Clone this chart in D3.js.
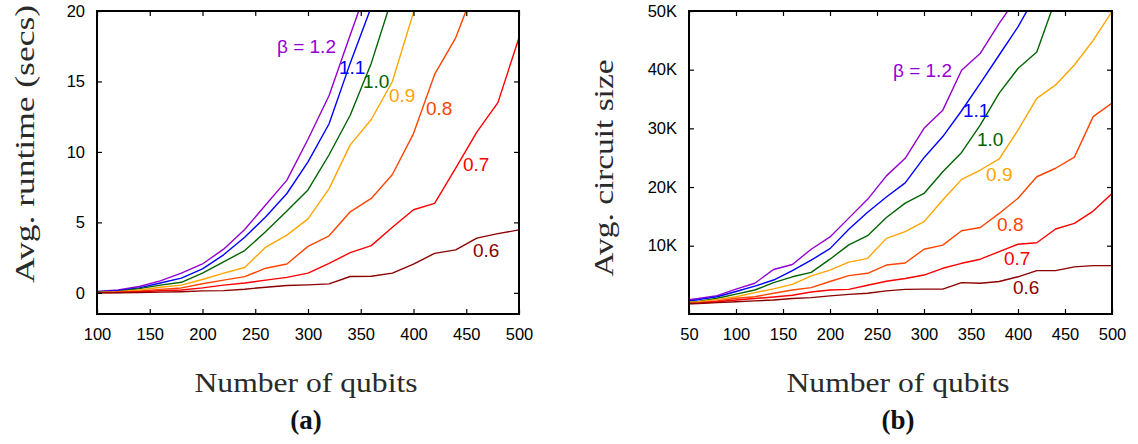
<!DOCTYPE html>
<html>
<head>
<meta charset="utf-8">
<script src="https://cdn.jsdelivr.net/npm/d3@7"></script>
<style>
  html, body { margin: 0; padding: 0; background: #fff; }
  svg { display: block; }
  .tick text { font-family: "Liberation Sans", Arial, sans-serif; font-size: 16.5px; fill: #000; }
  .tick line { stroke: #000; stroke-width: 1.2; }
  .title { font-family: "Liberation Serif", "Times New Roman", serif; font-size: 28px; fill: #2a2a2a; }
  .panel { font-family: "Liberation Serif", "Times New Roman", serif; font-size: 27px; font-weight: bold; fill: #111; }
  .lbl { font-family: "Liberation Sans", Arial, sans-serif; font-size: 19px; }
</style>
</head>
<body>
<svg id="chart" width="1138" height="444"></svg>
<script>
// Series parameters and colours
const betas = ["1.2", "1.1", "1.0", "0.9", "0.8", "0.7", "0.6"];
const colors = ["#9400D3", "#0000FF", "#006400", "#FFA500", "#FF4500", "#FF0000", "#8B0000"];

// (a) average runtime in seconds; x = 100, 120, ... (each series ends once it leaves the plot)
const qubitsA = d3.range(100, 501, 20);
const runtime12 = [0.1, 0.2, 0.45, 0.85, 1.4, 2.05, 3.1, 4.5, 6.25, 8.0, 10.9, 14.0, 18.3, 22.5];
const runtime11 = [0.08, 0.15, 0.35, 0.7, 1.05, 1.7, 2.7, 3.95, 5.4, 7.05, 9.3, 12.0, 16.3, 20.3];
const runtime10 = [0.05, 0.1, 0.3, 0.55, 0.75, 1.4, 2.2, 3.0, 4.35, 5.8, 7.3, 9.8, 12.6, 16.3, 21.0];
const runtime09 = [0.03, 0.08, 0.2, 0.4, 0.55, 0.95, 1.4, 1.8, 3.25, 4.1, 5.25, 7.4, 10.5, 12.3, 15.0, 19.9, 24.0];
const runtime08 = [0.02, 0.05, 0.12, 0.25, 0.35, 0.65, 0.9, 1.15, 1.75, 2.05, 3.3, 4.05, 5.75, 6.7, 8.4, 11.3, 15.5, 18.1, 22.0];
const runtime07 = [0.0, 0.03, 0.08, 0.15, 0.2, 0.35, 0.55, 0.7, 0.9, 1.1, 1.4, 2.1, 2.85, 3.35, 4.65, 5.9, 6.35, 8.85, 11.4, 13.5, 18.1];
const runtime06 = [0.0, 0.01, 0.03, 0.05, 0.08, 0.14, 0.16, 0.26, 0.4, 0.52, 0.57, 0.64, 1.16, 1.18, 1.4, 2.04, 2.8, 3.05, 3.88, 4.2, 4.47];

// (b) average circuit size in thousands of gates; x = 40, 60, ...
const qubitsB = d3.range(40, 501, 20);
const size12 = [0.6, 1.0, 1.5, 2.6, 3.6, 5.95, 6.8, 9.4, 11.5, 14.7, 17.9, 21.9, 24.9, 30.0, 33.1, 39.9, 42.8, 47.9, 52.5];
const size11 = [0.4, 0.8, 1.3, 2.2, 3.1, 4.15, 5.75, 7.55, 9.5, 12.8, 15.7, 18.3, 20.7, 25.0, 28.6, 33.0, 37.7, 42.5, 47.3, 53.0];
const size10 = [0.3, 0.5, 1.05, 1.75, 2.45, 3.7, 4.7, 5.45, 7.7, 10.15, 11.7, 14.8, 17.25, 18.9, 22.6, 25.9, 30.6, 36.0, 40.2, 43.0, 52.0];
const size09 = [0.25, 0.45, 0.85, 1.3, 2.0, 2.65, 3.4, 4.85, 5.85, 7.2, 7.85, 11.25, 12.4, 14.1, 17.8, 21.3, 22.9, 24.8, 29.7, 35.1, 37.4, 40.8, 45.0, 49.9];
const size08 = [0.15, 0.3, 0.6, 1.05, 1.3, 1.9, 2.45, 2.85, 3.9, 4.9, 5.3, 6.7, 7.05, 9.4, 10.1, 12.55, 13.1, 15.5, 18.1, 21.75, 23.2, 25.1, 32.0, 34.3];
const size07 = [0.1, 0.2, 0.45, 0.75, 1.0, 1.25, 1.55, 2.1, 2.45, 2.55, 3.25, 3.95, 4.4, 5.0, 6.15, 7.0, 7.7, 9.0, 10.25, 10.5, 12.85, 13.8, 15.9, 18.9];
const size06 = [0.05, 0.15, 0.3, 0.45, 0.6, 0.75, 1.0, 1.15, 1.45, 1.7, 1.9, 2.3, 2.55, 2.6, 2.6, 3.7, 3.6, 3.9, 4.7, 5.75, 5.75, 6.4, 6.6, 6.6];

// Axis ticks
const xTicksA = [100, 150, 200, 250, 300, 350, 400, 450, 500];
const yTicksA = [0, 5, 10, 15, 20];
const xTicksB = [50, 100, 150, 200, 250, 300, 350, 400, 450, 500];
const yTicksB = [10, 20, 30, 40, 50];

// Curve labels: [text, x value, y value] in data units (left edge, vertical centre)
const labelsA = [["\u03B2 = 1.2", 270.6, 17.5], ["1.1", 329.4, 16.0], ["1.0", 352.1, 15.0], ["0.9", 376.8, 14.05], ["0.8", 411.8, 13.1], ["0.7", 446.9, 9.1], ["0.6", 456.4, 3.05]];
const labelsB = [["\u03B2 = 1.2", 267, 39.95], ["1.1", 341.5, 33.0], ["1.0", 356.4, 28.2], ["0.9", 366, 22.2], ["0.8", 377.7, 13.65], ["0.7", 385, 7.9], ["0.6", 394.7, 2.95]];

const svg = d3.select("#chart");

function panel(cfg) {
  const x = d3.scaleLinear().domain(cfg.xDomain).range([cfg.left, cfg.right]);
  const y = d3.scaleLinear().domain(cfg.yDomain).range([cfg.bottom, cfg.top]);
  const g = svg.append("g");

  const clipId = "clip-" + cfg.id;
  g.append("clipPath").attr("id", clipId).append("rect")
    .attr("x", cfg.left).attr("y", cfg.top)
    .attr("width", cfg.right - cfg.left).attr("height", cfg.bottom - cfg.top);

  // data lines
  const line = d3.line().x(d => x(d[0])).y(d => y(d[1]));
  const lines = g.append("g").attr("clip-path", `url(#${clipId})`);
  cfg.series.forEach((vals, i) => {
    const pts = vals.map((v, j) => [cfg.xs[j], v]);
    lines.append("path").datum(pts)
      .attr("d", line).attr("fill", "none")
      .attr("stroke", colors[i]).attr("stroke-width", 1.4)
      .attr("stroke-linejoin", "round");
  });

  // axes with inward ticks on all four sides
  const ax = [
    g.append("g").attr("transform", `translate(0,${cfg.bottom})`)
      .call(d3.axisBottom(x).tickValues(cfg.xTicks).tickSize(-5).tickPadding(14)),
    g.append("g").attr("transform", `translate(0,${cfg.top})`)
      .call(d3.axisTop(x).tickValues(cfg.xTicks).tickSize(-5).tickFormat("")),
    g.append("g").attr("transform", `translate(${cfg.left},0)`)
      .call(d3.axisLeft(y).tickValues(cfg.yTicks).tickSize(-5).tickPadding(12).tickFormat(cfg.yFormat)),
    g.append("g").attr("transform", `translate(${cfg.right},0)`)
      .call(d3.axisRight(y).tickValues(cfg.yTicks).tickSize(-5).tickFormat(""))
  ];
  ax.forEach(a => a.select(".domain").remove());

  // frame
  g.append("rect")
    .attr("x", cfg.left).attr("y", cfg.top)
    .attr("width", cfg.right - cfg.left).attr("height", cfg.bottom - cfg.top)
    .attr("fill", "none").attr("stroke", "#000").attr("stroke-width", 2);

  // curve labels
  cfg.labels.forEach((l, i) => {
    g.append("text").attr("class", "lbl")
      .attr("x", x(l[1])).attr("y", y(l[2]))
      .attr("dy", "0.35em")
      .attr("fill", colors[i]).text(l[0]);
  });

  // axis titles
  g.append("text").attr("class", "title")
    .attr("transform", `translate(${cfg.yTitleX},${cfg.yTitleY}) rotate(-90)`)
    .attr("text-anchor", "middle").attr("dy", "0.35em")
    .attr("textLength", cfg.yTitleLen).attr("lengthAdjust", "spacingAndGlyphs")
    .text(cfg.yTitle);
  g.append("text").attr("class", "title")
    .attr("x", cfg.xTitleX).attr("y", 392)
    .attr("text-anchor", "middle")
    .attr("textLength", 223).attr("lengthAdjust", "spacingAndGlyphs")
    .text("Number of qubits");
  g.append("text").attr("class", "panel")
    .attr("x", cfg.xTitleX).attr("y", 429)
    .attr("text-anchor", "middle")
    .text(cfg.tag);
}

panel({
  id: "a", left: 97, right: 519, top: 11, bottom: 314,
  xDomain: [100, 500], yDomain: [-1.5, 20],
  xs: qubitsA,
  series: [runtime12, runtime11, runtime10, runtime09, runtime08, runtime07, runtime06],
  xTicks: xTicksA, yTicks: yTicksA, yFormat: d3.format("d"),
  labels: labelsA,
  yTitle: "Avg. runtime (secs)", yTitleX: 24, yTitleY: 144, yTitleLen: 278,
  xTitleX: 306, tag: "(a)"
});

panel({
  id: "b", left: 689, right: 1112, top: 11, bottom: 314,
  xDomain: [50, 500], yDomain: [-1.64, 50],
  xs: qubitsB,
  series: [size12, size11, size10, size09, size08, size07, size06],
  xTicks: xTicksB, yTicks: yTicksB, yFormat: d => d + "K",
  labels: labelsB,
  yTitle: "Avg. circuit size", yTitleX: 603, yTitleY: 168, yTitleLen: 217,
  xTitleX: 898, tag: "(b)"
});
</script>
</body>
</html>
